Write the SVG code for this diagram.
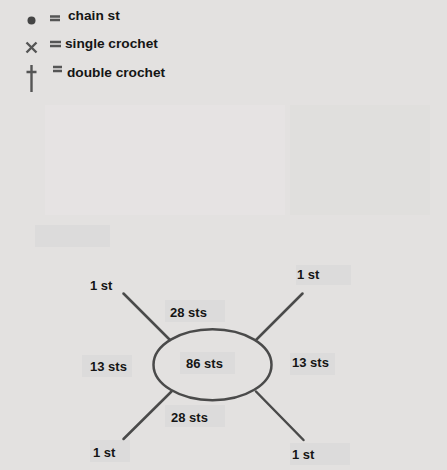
<svg xmlns="http://www.w3.org/2000/svg" width="447" height="470" viewBox="0 0 447 470">
<style>
  text { font-family: "Liberation Sans", Arial, sans-serif; font-weight: bold; font-size: 13px; fill: #151515; }
  .leg { font-size: 13.7px; }
  .sym { stroke: #555; stroke-width: 2.4; fill: none; }
  .conn { stroke: #4a4a4a; stroke-width: 2.5; fill: none; stroke-linecap: round; }
  .patch { fill: #dcdbdb; }
</style>
<rect x="0" y="0" width="447" height="470" fill="#e3e1e0"/>
<rect x="45" y="105" width="240" height="110" fill="#e6e3e3"/>
<rect x="290" y="105" width="140" height="110" fill="#e0dfdd"/>
<!-- faint label patches -->
<rect class="patch" x="35" y="225" width="75" height="22"/>
<rect class="patch" x="165" y="300" width="60" height="22"/>
<rect class="patch" x="82" y="355" width="50" height="22"/>
<rect class="patch" x="180" y="352" width="55" height="22"/>
<rect class="patch" x="290" y="353" width="45" height="22"/>
<rect class="patch" x="165" y="405" width="60" height="22"/>
<rect class="patch" x="296" y="265" width="55" height="20"/>
<rect class="patch" x="90" y="440" width="40" height="22"/>
<rect class="patch" x="290" y="443" width="60" height="22"/>
<g id="legend">
  <circle cx="31.5" cy="20.5" r="4" fill="#444"/>
  <path class="sym" d="M50 16.5H60 M50 20H60"/>
  <text class="leg" x="68" y="19.5">chain st</text>
  <path class="sym" d="M26.5 42.5L36.5 52.5 M36.5 42.5L26.5 52.5"/>
  <path class="sym" d="M50 42H61 M50 46H61"/>
  <text class="leg" x="65" y="48">single crochet</text>
  <path class="sym" d="M31.5 65V92 M26.5 72H36.5"/>
  <path class="sym" d="M53 67H62 M53 71H62"/>
  <text class="leg" x="67" y="76.5">double crochet</text>
</g>
<g id="connectors">
  <line class="conn" x1="123.5" y1="293.5" x2="170" y2="340"/>
  <line class="conn" x1="302.5" y1="293.5" x2="256" y2="340"/>
  <line class="conn" x1="171.5" y1="391.5" x2="123.5" y2="439"/>
  <line class="conn" x1="256" y1="391.5" x2="303.5" y2="440"/>
</g>
<g id="center">
  <ellipse cx="212.5" cy="364.7" rx="59" ry="35.5" fill="none" stroke="#4a4a4a" stroke-width="2.5"/>
  <text x="186" y="367.5">86 sts</text>
</g>
<g id="labels">
  <text x="90" y="290">1 st</text>
  <text x="297" y="279">1 st</text>
  <text x="93" y="456.5">1 st</text>
  <text x="292" y="459">1 st</text>
  <text x="170" y="317">28 sts</text>
  <text x="171" y="421.5">28 sts</text>
  <text x="90" y="370.5">13 sts</text>
  <text x="292" y="367">13 sts</text>
</g>
</svg>
